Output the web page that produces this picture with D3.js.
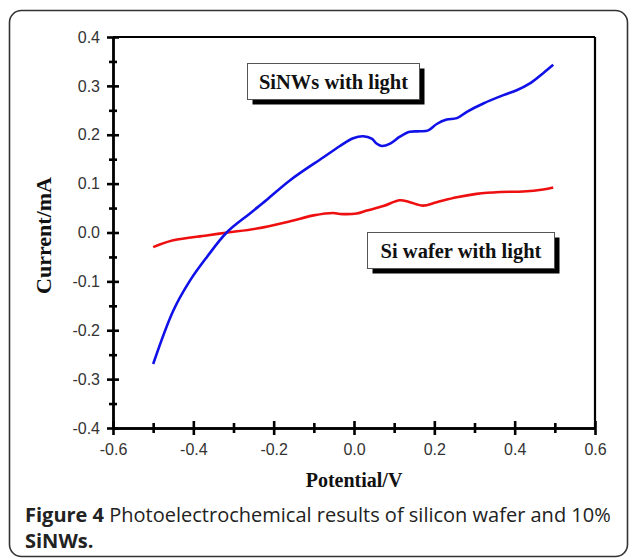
<!DOCTYPE html>
<html>
<head>
<meta charset="utf-8">
<script src="https://cdn.jsdelivr.net/npm/d3@7"></script>
<style>
body{margin:0;background:#fff;}
svg{display:block;}
</style>
</head>
<body>
<script>
var W = 629, H = 559;
var margin = {top:37, right:34, bottom:131, left:113};
var width = W - margin.left - margin.right;
var height = H - margin.top - margin.bottom;

// SiNWs with light (blue)
var sinwPotential = [-0.5,-0.45,-0.408,-0.367,-0.317,-0.259,-0.217,-0.159,-0.076,-0.035,-0.002,0.023,0.044,0.056,0.069,0.09,0.114,0.139,0.164,0.185,0.206,0.231,0.256,0.281,0.322,0.372,0.405,0.438,0.471,0.496];
var sinwCurrent   = [-0.269,-0.16,-0.098,-0.051,0.0,0.039,0.067,0.107,0.154,0.177,0.193,0.197,0.192,0.182,0.177,0.182,0.196,0.206,0.207,0.209,0.222,0.231,0.234,0.247,0.264,0.281,0.291,0.305,0.326,0.343];
// Si wafer with light (red)
var waferPotential = [-0.5,-0.45,-0.367,-0.315,-0.242,-0.159,-0.101,-0.051,-0.035,0.007,0.032,0.073,0.114,0.139,0.172,0.206,0.256,0.305,0.363,0.421,0.471,0.496];
var waferCurrent   = [-0.03,-0.016,-0.006,0.0,0.008,0.023,0.035,0.04,0.038,0.039,0.045,0.054,0.066,0.062,0.055,0.062,0.072,0.079,0.083,0.084,0.088,0.092];

var xMajor = [-0.6,-0.4,-0.2,0.0,0.2,0.4,0.6];
var xMinor = [-0.5,-0.3,-0.1,0.1,0.3,0.5];
var yMajor = [-0.4,-0.3,-0.2,-0.1,0.0,0.1,0.2,0.3,0.4];
var yMinor = [-0.35,-0.25,-0.15,-0.05,0.05,0.15,0.25,0.35];

var svg = d3.select("body").append("svg")
    .attr("width", W)
    .attr("height", H);

// outer rounded frame
svg.append("rect")
    .attr("x", 9.5).attr("y", 10.5)
    .attr("width", 618).attr("height", 546)
    .attr("rx", 12).attr("ry", 12)
    .style("fill", "none")
    .style("stroke", "#333")
    .style("stroke-width", 1.6);

var g = svg.append("g")
    .attr("transform", "translate(" + [margin.left, margin.top] + ")");

var x = d3.scaleLinear().domain([-0.6, 0.6]).range([0, width]);
var y = d3.scaleLinear().domain([-0.4, 0.4]).range([height, 0]);

// top and right frame lines
g.append("line").attr("x1", 0).attr("x2", width).attr("y1", 0).attr("y2", 0)
    .style("stroke", "#000").style("stroke-width", 2.2);
g.append("line").attr("x1", width).attr("x2", width).attr("y1", 0).attr("y2", height)
    .style("stroke", "#000").style("stroke-width", 2.2);

var fmt = function(d){ return d3.format(".1f")(d).replace("\u2212", "-"); };

function styleAxis(sel, half, vertical){
    sel.select(".domain").style("stroke", "#000").style("stroke-width", 2.4);
    sel.selectAll(".tick line")
        .style("stroke", "#000").style("stroke-width", 2.6);
    if (vertical) sel.selectAll(".tick line").attr("x1", -half).attr("x2", half);
    else sel.selectAll(".tick line").attr("y1", -half).attr("y2", half);
    sel.selectAll("text")
        .style("font-family", "'Liberation Sans', Arial, sans-serif")
        .style("font-size", "16px")
        .style("fill", "#333");
}

// x axis
var xMinorAxis = g.append("g").attr("transform", "translate(0," + height + ")")
    .call(d3.axisBottom(x).tickValues(xMinor).tickSize(0).tickFormat(""));
styleAxis(xMinorAxis, 5, false);
var xAxis = g.append("g").attr("transform", "translate(0," + height + ")")
    .call(d3.axisBottom(x).tickValues(xMajor).tickSize(0).tickPadding(16).tickFormat(fmt));
styleAxis(xAxis, 7, false);

// y axis
var yMinorAxis = g.append("g")
    .call(d3.axisLeft(y).tickValues(yMinor).tickSize(0).tickFormat(""));
styleAxis(yMinorAxis, 4, true);
var yAxis = g.append("g")
    .call(d3.axisLeft(y).tickValues(yMajor).tickSize(0).tickPadding(13).tickFormat(fmt));
styleAxis(yAxis, 6, true);

// curves
var line = d3.line().curve(d3.curveCatmullRom.alpha(0.5))
    .x(function(d){ return x(d[0]); })
    .y(function(d){ return y(d[1]); });

g.append("path")
    .datum(waferPotential.map(function(v, i){ return [v, waferCurrent[i]]; }))
    .attr("d", line)
    .style("fill", "none").style("stroke", "#ee1010").style("stroke-width", 2.6);

g.append("path")
    .datum(sinwPotential.map(function(v, i){ return [v, sinwCurrent[i]]; }))
    .attr("d", line)
    .style("fill", "none").style("stroke", "#1010e8").style("stroke-width", 2.6);

// legend boxes with drop shadow
function labelBox(bx, by, bw, bh, label){
    svg.append("rect").attr("x", bx + 5).attr("y", by + 5)
        .attr("width", bw).attr("height", bh).style("fill", "#000");
    svg.append("rect").attr("x", bx).attr("y", by)
        .attr("width", bw).attr("height", bh)
        .style("fill", "#fff").style("stroke", "#555").style("stroke-width", 1);
    svg.append("text")
        .attr("x", bx + bw / 2).attr("y", by + bh / 2 + 7)
        .attr("text-anchor", "middle")
        .style("font-family", "'Liberation Serif', 'Times New Roman', serif")
        .style("font-weight", "bold")
        .style("font-size", "20.5px")
        .style("fill", "#111")
        .text(label);
}
labelBox(247.5, 63.5, 172, 36, "SiNWs with light");
labelBox(367.5, 232.5, 187, 36, "Si wafer with light");

// axis titles
svg.append("text")
    .attr("transform", "translate(51," + (margin.top + height / 2 + 3) + ") rotate(-90)")
    .attr("text-anchor", "middle")
    .style("font-family", "'Liberation Serif', 'Times New Roman', serif")
    .style("font-weight", "bold")
    .style("font-size", "22px")
    .style("fill", "#111")
    .text("Current/mA");

svg.append("text")
    .attr("x", margin.left + width / 2).attr("y", 487)
    .attr("text-anchor", "middle")
    .style("font-family", "'Liberation Serif', 'Times New Roman', serif")
    .style("font-weight", "bold")
    .style("font-size", "20px")
    .style("fill", "#111")
    .text("Potential/V");

// caption
var cap = svg.append("text")
    .attr("x", 25).attr("y", 522)
    .style("font-family", "'Open Sans', 'Noto Sans', sans-serif")
    .style("font-size", "20px")
    .style("fill", "#222");
cap.append("tspan").style("font-weight", "bold").text("Figure 4");
cap.append("tspan").text(" Photoelectrochemical results of silicon wafer and 10%");
svg.append("text")
    .attr("x", 25).attr("y", 548)
    .style("font-family", "'Open Sans', 'Noto Sans', sans-serif")
    .style("font-size", "20px")
    .style("font-weight", "bold")
    .style("fill", "#222")
    .text("SiNWs.");
</script>
</body>
</html>
